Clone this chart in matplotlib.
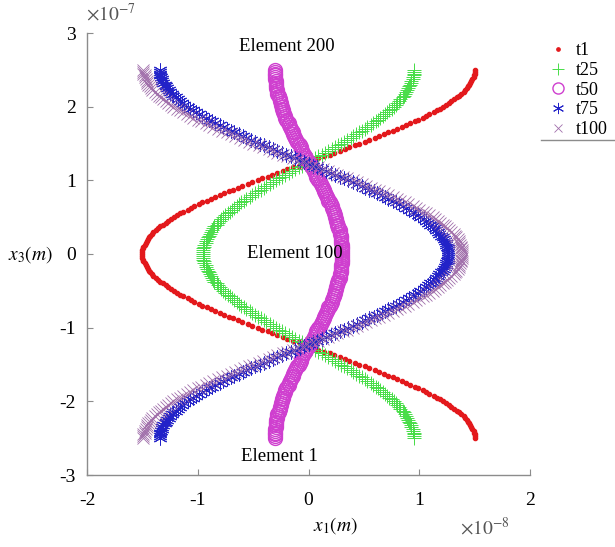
import numpy as np
import matplotlib
matplotlib.use("Agg")
import matplotlib.pyplot as plt
from matplotlib.lines import Line2D

plt.rcParams['font.family'] = ['Liberation Serif', 'DejaVu Serif']
plt.rcParams['mathtext.fontset'] = 'stix'
plt.rcParams['axes.unicode_minus'] = False

# x1 displacement of each element (units of 1e-8 m), element 1 -> element 201 along x3
t1 = [1.50, 1.50, 1.50, 1.49, 1.49, 1.48, 1.47, 1.46, 1.45, 1.44, 1.43, 1.41, 1.40, 1.38, 1.36, 1.34, 1.31, 1.29, 1.27, 1.24,
      1.21, 1.19, 1.16, 1.13, 1.09, 1.06, 1.03, 0.99, 0.96, 0.92, 0.88, 0.84, 0.80, 0.76, 0.72, 0.68, 0.64, 0.60, 0.55, 0.51,
      0.46, 0.42, 0.37, 0.33, 0.28, 0.23, 0.19, 0.14, 0.09, 0.05,
      0.00,
      -0.05, -0.09, -0.14, -0.19, -0.23, -0.28, -0.33, -0.37, -0.42, -0.46, -0.51, -0.55, -0.60, -0.64, -0.68, -0.72, -0.76,
      -0.80, -0.84, -0.88, -0.92, -0.96, -0.99, -1.03, -1.06, -1.09, -1.13, -1.16, -1.19, -1.21, -1.24, -1.27, -1.29, -1.31,
      -1.34, -1.36, -1.38, -1.40, -1.41, -1.43, -1.44, -1.45, -1.46, -1.47, -1.48, -1.49, -1.49, -1.50, -1.50, -1.50,
      -1.50, -1.50, -1.49, -1.49, -1.48, -1.47, -1.46, -1.45, -1.44, -1.43, -1.41, -1.40, -1.38, -1.36, -1.34, -1.31, -1.29,
      -1.27, -1.24, -1.21, -1.19, -1.16, -1.13, -1.09, -1.06, -1.03, -0.99, -0.96, -0.92, -0.88, -0.84, -0.80, -0.76, -0.72,
      -0.68, -0.64, -0.60, -0.55, -0.51, -0.46, -0.42, -0.37, -0.33, -0.28, -0.23, -0.19, -0.14, -0.09, -0.05,
      0.00,
      0.05, 0.09, 0.14, 0.19, 0.23, 0.28, 0.33, 0.37, 0.42, 0.46, 0.51, 0.55, 0.60, 0.64, 0.68, 0.72, 0.76, 0.80, 0.84, 0.88,
      0.92, 0.96, 0.99, 1.03, 1.06, 1.09, 1.13, 1.16, 1.19, 1.21, 1.24, 1.27, 1.29, 1.31, 1.34, 1.36, 1.38, 1.40, 1.41, 1.43,
      1.44, 1.45, 1.46, 1.47, 1.48, 1.49, 1.49, 1.50, 1.50, 1.50]

t25 = [0.95, 0.95, 0.95, 0.95, 0.94, 0.94, 0.93, 0.93, 0.92, 0.91, 0.90, 0.89, 0.88, 0.87, 0.86, 0.85, 0.83, 0.82, 0.80, 0.79,
       0.77, 0.75, 0.73, 0.71, 0.69, 0.67, 0.65, 0.63, 0.61, 0.58, 0.56, 0.53, 0.51, 0.48, 0.46, 0.43, 0.40, 0.38, 0.35, 0.32,
       0.29, 0.27, 0.24, 0.21, 0.18, 0.15, 0.12, 0.09, 0.06, 0.03,
       0.00,
       -0.03, -0.06, -0.09, -0.12, -0.15, -0.18, -0.21, -0.24, -0.27, -0.29, -0.32, -0.35, -0.38, -0.40, -0.43, -0.46, -0.48,
       -0.51, -0.53, -0.56, -0.58, -0.61, -0.63, -0.65, -0.67, -0.69, -0.71, -0.73, -0.75, -0.77, -0.79, -0.80, -0.82, -0.83,
       -0.85, -0.86, -0.87, -0.88, -0.89, -0.90, -0.91, -0.92, -0.93, -0.93, -0.94, -0.94, -0.95, -0.95, -0.95, -0.95,
       -0.95, -0.95, -0.95, -0.94, -0.94, -0.93, -0.93, -0.92, -0.91, -0.90, -0.89, -0.88, -0.87, -0.86, -0.85, -0.83, -0.82,
       -0.80, -0.79, -0.77, -0.75, -0.73, -0.71, -0.69, -0.67, -0.65, -0.63, -0.61, -0.58, -0.56, -0.53, -0.51, -0.48, -0.46,
       -0.43, -0.40, -0.38, -0.35, -0.32, -0.29, -0.27, -0.24, -0.21, -0.18, -0.15, -0.12, -0.09, -0.06, -0.03,
       0.00,
       0.03, 0.06, 0.09, 0.12, 0.15, 0.18, 0.21, 0.24, 0.27, 0.29, 0.32, 0.35, 0.38, 0.40, 0.43, 0.46, 0.48, 0.51, 0.53, 0.56,
       0.58, 0.61, 0.63, 0.65, 0.67, 0.69, 0.71, 0.73, 0.75, 0.77, 0.79, 0.80, 0.82, 0.83, 0.85, 0.86, 0.87, 0.88, 0.89, 0.90,
       0.91, 0.92, 0.93, 0.93, 0.94, 0.94, 0.95, 0.95, 0.95, 0.95]

t50 = [-0.30, -0.30, -0.30, -0.30, -0.30, -0.30, -0.29, -0.29, -0.29, -0.29, -0.29, -0.28, -0.28, -0.28, -0.27, -0.27, -0.26,
       -0.26, -0.25, -0.25, -0.24, -0.24, -0.23, -0.23, -0.22, -0.21, -0.21, -0.20, -0.19, -0.18, -0.18, -0.17, -0.16, -0.15,
       -0.14, -0.14, -0.13, -0.12, -0.11, -0.10, -0.09, -0.08, -0.07, -0.07, -0.06, -0.05, -0.04, -0.03, -0.02, -0.01,
       0.00,
       0.01, 0.02, 0.03, 0.04, 0.05, 0.06, 0.07, 0.07, 0.08, 0.09, 0.10, 0.11, 0.12, 0.13, 0.14, 0.14, 0.15, 0.16, 0.17, 0.18,
       0.18, 0.19, 0.20, 0.21, 0.21, 0.22, 0.23, 0.23, 0.24, 0.24, 0.25, 0.25, 0.26, 0.26, 0.27, 0.27, 0.28, 0.28, 0.28, 0.29,
       0.29, 0.29, 0.29, 0.29, 0.30, 0.30, 0.30, 0.30, 0.30, 0.30,
       0.30, 0.30, 0.30, 0.30, 0.30, 0.29, 0.29, 0.29, 0.29, 0.29, 0.28, 0.28, 0.28, 0.27, 0.27, 0.26, 0.26, 0.25, 0.25, 0.24,
       0.24, 0.23, 0.23, 0.22, 0.21, 0.21, 0.20, 0.19, 0.18, 0.18, 0.17, 0.16, 0.15, 0.14, 0.14, 0.13, 0.12, 0.11, 0.10, 0.09,
       0.08, 0.07, 0.07, 0.06, 0.05, 0.04, 0.03, 0.02, 0.01,
       0.00,
       -0.01, -0.02, -0.03, -0.04, -0.05, -0.06, -0.07, -0.07, -0.08, -0.09, -0.10, -0.11, -0.12, -0.13, -0.14, -0.14, -0.15,
       -0.16, -0.17, -0.18, -0.18, -0.19, -0.20, -0.21, -0.21, -0.22, -0.23, -0.23, -0.24, -0.24, -0.25, -0.25, -0.26, -0.26,
       -0.27, -0.27, -0.28, -0.28, -0.28, -0.29, -0.29, -0.29, -0.29, -0.29, -0.30, -0.30, -0.30, -0.30, -0.30, -0.30]

t75 = [-1.34, -1.34, -1.34, -1.34, -1.33, -1.32, -1.32, -1.31, -1.30, -1.29, -1.28, -1.26, -1.25, -1.23, -1.22, -1.20, -1.18,
       -1.16, -1.14, -1.12, -1.09, -1.07, -1.04, -1.02, -0.99, -0.96, -0.93, -0.90, -0.87, -0.84, -0.80, -0.77, -0.74, -0.70,
       -0.67, -0.63, -0.59, -0.56, -0.52, -0.48, -0.44, -0.40, -0.36, -0.32, -0.28, -0.24, -0.20, -0.16, -0.12, -0.08,
       -0.04,
       0.00, 0.04, 0.08, 0.12, 0.16, 0.20, 0.24, 0.28, 0.32, 0.36, 0.40, 0.44, 0.48, 0.51, 0.55, 0.59, 0.62, 0.66, 0.69, 0.72,
       0.76, 0.79, 0.82, 0.85, 0.88, 0.91, 0.94, 0.96, 0.99, 1.01, 1.04, 1.06, 1.08, 1.10, 1.12, 1.14, 1.15, 1.17, 1.18, 1.20,
       1.21, 1.22, 1.23, 1.24, 1.24, 1.25, 1.26, 1.26, 1.26, 1.26,
       1.26, 1.26, 1.26, 1.25, 1.24, 1.24, 1.23, 1.22, 1.21, 1.20, 1.18, 1.17, 1.15, 1.14, 1.12, 1.10, 1.08, 1.06, 1.04, 1.01,
       0.99, 0.96, 0.94, 0.91, 0.88, 0.85, 0.82, 0.79, 0.76, 0.72, 0.69, 0.66, 0.62, 0.59, 0.55, 0.51, 0.48, 0.44, 0.40, 0.36,
       0.32, 0.28, 0.24, 0.20, 0.16, 0.12, 0.08, 0.04, 0.00,
       -0.04,
       -0.08, -0.12, -0.16, -0.20, -0.24, -0.28, -0.32, -0.36, -0.40, -0.44, -0.48, -0.52, -0.56, -0.59, -0.63, -0.67, -0.70,
       -0.74, -0.77, -0.80, -0.84, -0.87, -0.90, -0.93, -0.96, -0.99, -1.02, -1.04, -1.07, -1.09, -1.12, -1.14, -1.16, -1.18,
       -1.20, -1.22, -1.23, -1.25, -1.26, -1.28, -1.29, -1.30, -1.31, -1.32, -1.32, -1.33, -1.34, -1.34, -1.34, -1.34]

t100 = [-1.49, -1.49, -1.49, -1.48, -1.48, -1.47, -1.46, -1.46, -1.45, -1.43, -1.42, -1.41, -1.39, -1.37, -1.35, -1.33, -1.31,
        -1.29, -1.27, -1.24, -1.22, -1.19, -1.16, -1.13, -1.10, -1.07, -1.04, -1.00, -0.97, -0.93, -0.90, -0.86, -0.82, -0.78,
        -0.74, -0.70, -0.66, -0.62, -0.58, -0.54, -0.50, -0.45, -0.41, -0.36, -0.32, -0.28, -0.23, -0.19, -0.14, -0.10,
        -0.05,
        -0.01, 0.04, 0.09, 0.13, 0.18, 0.22, 0.26, 0.31, 0.35, 0.40, 0.44, 0.48, 0.52, 0.56, 0.60, 0.64, 0.68, 0.72, 0.76, 0.80,
        0.83, 0.87, 0.90, 0.94, 0.97, 1.00, 1.03, 1.06, 1.09, 1.12, 1.14, 1.17, 1.19, 1.21, 1.23, 1.25, 1.27, 1.29, 1.31, 1.32,
        1.33, 1.35, 1.36, 1.36, 1.37, 1.38, 1.38, 1.39, 1.39, 1.39,
        1.39, 1.39, 1.38, 1.38, 1.37, 1.36, 1.36, 1.35, 1.33, 1.32, 1.31, 1.29, 1.27, 1.25, 1.23, 1.21, 1.19, 1.17, 1.14, 1.12,
        1.09, 1.06, 1.03, 1.00, 0.97, 0.94, 0.90, 0.87, 0.83, 0.80, 0.76, 0.72, 0.68, 0.64, 0.60, 0.56, 0.52, 0.48, 0.44, 0.40,
        0.35, 0.31, 0.26, 0.22, 0.18, 0.13, 0.09, 0.04, -0.01,
        -0.05,
        -0.10, -0.14, -0.19, -0.23, -0.28, -0.32, -0.36, -0.41, -0.45, -0.50, -0.54, -0.58, -0.62, -0.66, -0.70, -0.74, -0.78,
        -0.82, -0.86, -0.90, -0.93, -0.97, -1.00, -1.04, -1.07, -1.10, -1.13, -1.16, -1.19, -1.22, -1.24, -1.27, -1.29, -1.31,
        -1.33, -1.35, -1.37, -1.39, -1.41, -1.42, -1.43, -1.45, -1.46, -1.46, -1.47, -1.48, -1.48, -1.49, -1.49, -1.49]

# element positions along the rod (units of 1e-7 m), uniform mesh
x3_start, x3_end = -2.5, 2.5

series = [
    ("t1", t1, dict(marker='.', color='#e3191c', ms=6, mfc='#e3191c', mec='#e3191c')),
    ("t25", t25, dict(marker='+', color='#48dd48', ms=10, mew=0.7)),
    ("t50", t50, dict(marker='o', color='#cf3fcf', ms=10, mfc='none', mew=1.0)),
    ("t75", t75, dict(marker=(6, 2, 0), color='#2222c8', ms=10, mew=0.7)),
    ("t100", t100, dict(marker='x', color='#a06eaa', ms=8, mew=0.6)),
]

fig = plt.figure(figsize=(6.15, 5.47), dpi=100)
ax = fig.add_axes([87 / 615, 72 / 547, 443 / 615, 442 / 547])

handles = []
for name, vals, style in series:
    x3 = np.linspace(x3_start, x3_end, len(vals))
    h, = ax.plot(vals, x3, linestyle='none', label=name, **style)
    handles.append(h)

ax.set_xlim(-2, 2)
ax.set_ylim(-3, 3)
ax.set_xticks([-2, -1, 0, 1, 2])
ax.set_yticks([-3, -2, -1, 0, 1, 2, 3])
ax.set_xticklabels(['-2', '-1', '0', '1', '2'])
ax.set_yticklabels(['-3', '-2', '-1', '0', '1', '2', '3'])

for side in ['top', 'right']:
    ax.spines[side].set_visible(False)
for side in ['left', 'bottom']:
    ax.spines[side].set_color('#8c8c8c')
    ax.spines[side].set_linewidth(1.0)
ax.tick_params(direction='in', length=4, color='#8c8c8c', labelsize=14)
ax.tick_params(axis='x', pad=12)
ax.tick_params(axis='y', pad=8)

ax.text(-0.2, 2.82, 'Element 200', ha='center', va='center', fontsize=13.5)
ax.text(-0.12, 0.0, 'Element 100', ha='center', va='center', fontsize=13.5)
ax.text(-0.26, -2.75, 'Element 1', ha='center', va='center', fontsize=13.5)

fig.text(335 / 615, 1 - 526 / 547, r'$x_1(m)$', ha='center', va='center', fontsize=14)
fig.text(30 / 615, 1 - 255 / 547, r'$x_3(m)$', ha='center', va='center', fontsize=14)
fig.text(460 / 615, 1 - 528 / 547, r'$\times 10^{-8}$', ha='left', va='center', fontsize=14, color='#555555')
fig.text(86 / 615, 1 - 14 / 547, r'$\times 10^{-7}$', ha='left', va='center', fontsize=14, color='#555555')

leg = fig.legend(handles=handles, loc='upper left', bbox_to_anchor=(542 / 615, 1 - 35 / 547),
                 frameon=False, fontsize=13, handlelength=1.0, handletextpad=0.5, labelspacing=0.15,
                 borderaxespad=0, markerscale=0.8)
fig.add_artist(Line2D([541 / 615, 1.0], [1 - 140 / 547] * 2, color='#8c8c8c', lw=1))

fig.savefig('out.png', dpi=100)
